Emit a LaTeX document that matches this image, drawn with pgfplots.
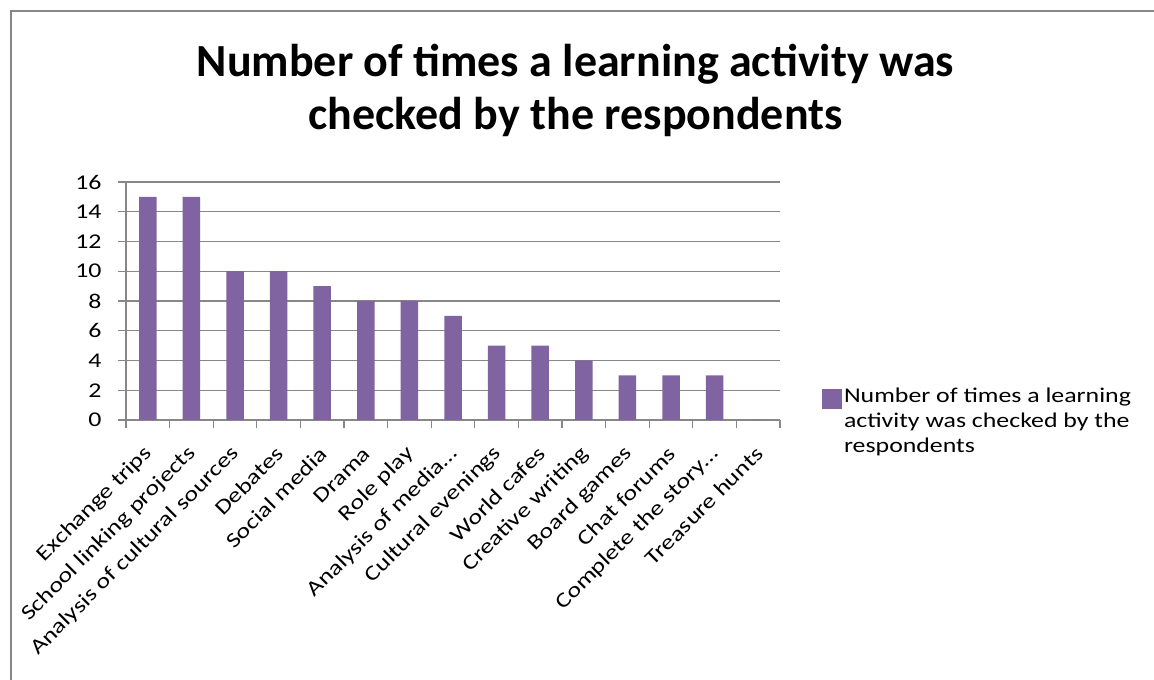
\documentclass[border=0pt]{standalone}
\usepackage{pgfplots}
\pgfplotsset{compat=1.18}
\usepackage{graphicx}
\usepackage{fontspec}
\setmainfont{Carlito}
\newfontfamily\widefont[FakeStretch=1.23]{Carlito}
\newcommand\w[1]{\scalebox{1.24}[1]{#1}}
\definecolor{barc}{HTML}{8064A2}
\definecolor{gridc}{HTML}{878787}
\begin{document}
\begin{tikzpicture}
\useasboundingbox (0pt,0pt) rectangle (1154pt,680pt);
\fill[white] (0pt,0pt) rectangle (1154pt,680pt);
\draw[gridc, line width=2pt] (11pt,0pt) -- (11pt,669pt) -- (1154pt,669pt);
\node[anchor=base, inner sep=0pt, font=\fontsize{46}{50}\selectfont\bfseries] at (575.5pt,603pt) {Number of times a learning activity was};
\node[anchor=base, inner sep=0pt, font=\fontsize{46}{50}\selectfont\bfseries] at (575.5pt,550pt) {checked by the respondents};
\begin{axis}[
  at={(126pt,260pt)}, anchor=south west,
  width=654pt, height=238pt, scale only axis,
  ybar, bar width=17.5pt, bar shift=0pt,
  xmin=-0.5, xmax=14.5, ymin=0, ymax=16,
  ytick={0,2,...,16},
  xtick={0,...,14},
  xticklabels={\w{Exchange trips}, \w{School linking projects}, \w{Analysis of cultural sources}, \w{Debates}, \w{Social media}, \w{Drama}, \w{Role play}, \w{Analysis of media…}, \w{Cultural evenings}, \w{World cafes}, \w{Creative writing}, \w{Board games}, \w{Chat forums}, \w{Complete the story…}, \w{Treasure hunts}},
  minor xtick={-0.5,0.5,...,14.5},
  major x tick style={draw=none},
  tick align=outside,
  major tick length=8pt, minor tick length=8pt,
  tick style={gridc, line width=1.3pt},
  axis lines*=left,
  axis line style={gridc, line width=1.3pt},
  ymajorgrids, grid style={gridc, line width=1.3pt},
  /pgf/number format/assume math mode=true,
  yticklabel style={font=\widefont\fontsize{21}{25}\selectfont, xshift=-13pt},
  xticklabel style={font=\fontsize{21}{25}\selectfont, xshift=3.6pt, yshift=-20pt, rotate=45, anchor=east},
  legend style={at={(1.064,0.156)}, anchor=north west, draw=none, fill=none, inner sep=0pt,
    font=\widefont\fontsize{21}{25}\selectfont, nodes={inner sep=2pt}},
  legend cell align=left,
  legend image code/.code={\fill[barc] (0pt,-14pt) rectangle (20pt,6pt);},
]
\addplot[fill=barc, draw=none] coordinates {(0,15) (1,15) (2,10) (3,10) (4,9) (5,8) (6,8) (7,7) (8,5) (9,5) (10,4) (11,3) (12,3) (13,3) (14,0)};
\addlegendentry{\begin{tabular}[t]{@{}l@{}}Number of times a learning\\activity was checked by the\\respondents\end{tabular}}
\end{axis}
\end{tikzpicture}
\end{document}
